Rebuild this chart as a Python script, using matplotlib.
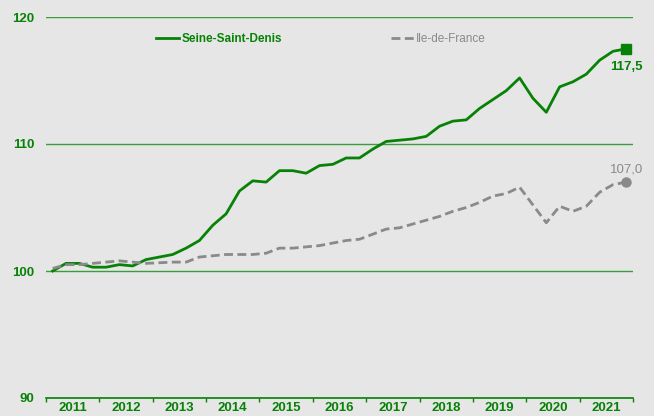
import matplotlib
matplotlib.use("Agg")
from matplotlib import pyplot as plt
from matplotlib.lines import Line2D
import numpy as np

plt.rcParams["font.family"] = ["Liberation Sans", "DejaVu Sans"]

# quarterly index, base 100
years = list(range(2011, 2022))
quarters = [(y, q) for y in years for q in range(1, 5)]

seine_saint_denis = [100.0, 100.6, 100.6, 100.3, 100.3, 100.5, 100.4, 100.9,
                     101.1, 101.3, 101.8, 102.4, 103.6, 104.5, 106.3, 107.1,
                     107.0, 107.9, 107.9, 107.7, 108.3, 108.4, 108.9, 108.9,
                     109.6, 110.2, 110.3, 110.4, 110.6, 111.4, 111.8, 111.9,
                     112.8, 113.5, 114.2, 115.2, 113.6, 112.5, 114.5, 114.9,
                     115.5, 116.6, 117.3, 117.5]
ile_de_france = [100.2, 100.5, 100.5, 100.6, 100.7, 100.8, 100.7, 100.6,
                 100.65, 100.7, 100.7, 101.1, 101.2, 101.3, 101.3, 101.3,
                 101.4, 101.8, 101.8, 101.9, 102.0, 102.2, 102.4, 102.5,
                 102.9, 103.3, 103.4, 103.7, 104.0, 104.3, 104.7, 105.0,
                 105.4, 105.9, 106.1, 106.6, 105.2, 103.8, 105.1, 104.7,
                 105.1, 106.2, 106.8, 107.0]

BG = "#e6e6e6"
GREEN = "#078207"
GRID = "#3c9c3c"
GRAY = "#8a8a8a"

x = np.array([y + (q - 0.5) / 4 for y, q in quarters])

fig = plt.figure(figsize=(6.54, 4.16), dpi=100, facecolor=BG)
ax = fig.add_axes([46/654, 18/416, 587/654, 381/416])
ax.set_facecolor(BG)

ax.plot(x, seine_saint_denis, color=GREEN, lw=2.0, zorder=3)
ax.plot(x, ile_de_france, color=GRAY, lw=2.0, dashes=(3.2, 1.6), zorder=3)
ax.plot(x[-1], seine_saint_denis[-1], marker="s", ms=7, color=GREEN, zorder=4)
ax.plot(x[-1], ile_de_france[-1], marker="o", ms=6.5, color=GRAY, zorder=4)

ax.annotate("117,5", (x[-1], seine_saint_denis[-1]), xytext=(0, -15), textcoords="offset points",
            ha="center", color=GREEN, fontsize=9.5, fontweight="bold")
ax.annotate(("%.1f" % ile_de_france[-1]).replace(".", ","), (x[-1], ile_de_france[-1]),
            xytext=(0, 7), textcoords="offset points", ha="center", color=GRAY, fontsize=9.5)

ax.set_xlim(2011, 2022)
ax.set_ylim(90, 120)
ax.set_yticks([90, 100, 110, 120])
ax.yaxis.grid(True, color=GRID, lw=1.0)
ax.set_axisbelow(True)
for s in ["top", "right", "left"]:
    ax.spines[s].set_visible(False)
ax.spines["bottom"].set_color(GREEN)
ax.spines["bottom"].set_linewidth(1.2)

ax.set_xticks(range(2011, 2023))
ax.set_xticklabels([])
ax.set_xticks([y + 0.5 for y in years], minor=True)
ax.set_xticklabels([str(y) for y in years], minor=True)
ax.tick_params(axis="x", which="major", length=3, color=GREEN, width=1)
ax.tick_params(axis="x", which="minor", length=0, pad=3, labelcolor=GREEN, labelsize=9.5)
ax.tick_params(axis="y", length=0, pad=8.5, labelcolor=GREEN, labelsize=9.5)
for lab in ax.get_xticklabels(minor=True) + ax.get_yticklabels():
    lab.set_fontweight("bold")

handles = [Line2D([], [], color=GREEN, lw=2.0),
           Line2D([], [], color=GRAY, lw=2.0, dashes=(3.2, 1.6))]
leg = ax.legend(handles, ["Seine-Saint-Denis", "Ile-de-France"], ncol=2, frameon=False,
                loc="upper left", bbox_to_anchor=(0.17, 0.985), fontsize=8.5,
                handlelength=1.95, handletextpad=0.15, columnspacing=9.3)
txts = leg.get_texts()
txts[0].set_color(GREEN)
txts[0].set_fontweight("bold")
txts[1].set_color(GRAY)

fig.savefig("out.png", dpi=100, facecolor=BG)
